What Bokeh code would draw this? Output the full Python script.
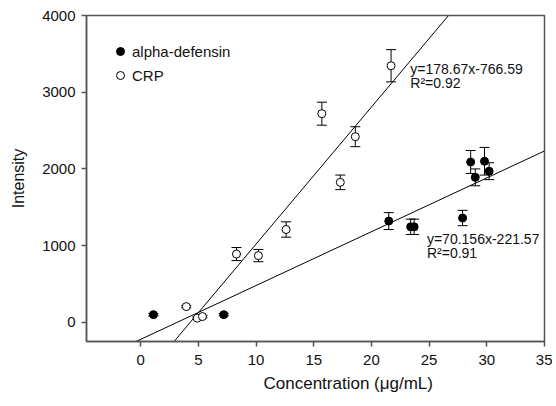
from bokeh.plotting import figure
from bokeh.models import (Range1d, FixedTicker, Whisker, TeeHead, ColumnDataSource,
                          Label, Legend, LegendItem, Title)
from bokeh.embed import file_html
from bokeh.resources import INLINE

# ---- data ----
alpha_x = [1.1, 7.2, 21.5, 23.4, 23.7, 27.9, 28.6, 29.0, 29.8, 30.2]
alpha_y = [100, 100, 1320, 1245, 1245, 1360, 2090, 1890, 2100, 1970]
alpha_err = [15, 15, 110, 100, 100, 100, 150, 110, 180, 110]

crp_x = [3.95, 4.9, 5.35, 8.3, 10.2, 12.6, 15.7, 17.3, 18.6, 21.7]
crp_y = [205, 55, 75, 890, 870, 1210, 2720, 1825, 2420, 3345]
crp_err = [15, 15, 15, 85, 80, 100, 150, 95, 130, 210]

fit_names = ["alpha-defensin", "CRP"]
fit_slope = [70.156, 178.67]
fit_intercept = [-221.57, -766.59]
fit_eq = ["y=70.156x-221.57", "y=178.67x-766.59"]
fit_r2 = ["R\u00b2=0.91", "R\u00b2=0.92"]

x_ticks = [0, 5, 10, 15, 20, 25, 30, 35]
y_ticks = [0, 1000, 2000, 3000, 4000]

XMIN, XMAX = -4.7, 35
YMIN, YMAX = -250, 4000
FONT = "Liberation Sans"
AXC = "#555555"

p = figure(width=552, height=398, x_range=Range1d(XMIN, XMAX), y_range=Range1d(YMIN, YMAX),
           output_backend="svg", toolbar_location=None,
           min_border_left=86, min_border_right=8, min_border_top=15, min_border_bottom=57)
p.xgrid.visible = False
p.ygrid.visible = False
p.outline_line_color = AXC
p.outline_line_width = 1.5
p.background_fill_color = "white"
p.border_fill_color = "white"

for ax in (p.xaxis[0], p.yaxis[0]):
    ax.axis_line_color = AXC
    ax.axis_line_width = 1.5
    ax.major_tick_line_color = AXC
    ax.major_tick_line_width = 1.5
    ax.major_tick_out = 5
    ax.major_tick_in = 0
    ax.minor_tick_line_color = None
    ax.major_label_text_font = FONT
    ax.major_label_text_font_size = "15px"
    ax.major_label_text_color = "#111111"
    ax.axis_label_text_font = FONT
    ax.axis_label_text_font_style = "normal"
    ax.axis_label_text_color = "#111111"

p.xaxis[0].ticker = FixedTicker(ticks=x_ticks)
p.yaxis[0].ticker = FixedTicker(ticks=y_ticks)
p.xaxis[0].major_label_standoff = 8
p.yaxis[0].major_label_standoff = 6
p.yaxis[0].axis_label = "Intensity"
p.yaxis[0].axis_label_text_font_size = "16px"
p.yaxis[0].axis_label_standoff = 12

# x axis title, centred under the tick range as in the reference
p.add_layout(Title(text="Concentration (\u03bcg/mL)", align="left", offset=177,
                   text_font=FONT, text_font_size="17px", text_font_style="normal",
                   text_color="#111111", standoff=9), "below")

# fit lines
for m, b in zip(fit_slope, fit_intercept):
    x0 = max(XMIN, (YMIN - b) / m)
    x1 = min(XMAX, (YMAX - b) / m)
    p.line([x0, x1], [m * x0 + b, m * x1 + b], line_color="black", line_width=1)

renderers = []
for xs, ys, es, fill in ((alpha_x, alpha_y, alpha_err, "black"), (crp_x, crp_y, crp_err, "white")):
    src = ColumnDataSource(dict(x=xs, y=ys,
                                upper=[y + e for y, e in zip(ys, es)],
                                lower=[y - e for y, e in zip(ys, es)]))
    w = Whisker(source=src, base="x", upper="upper", lower="lower", dimension="height",
                line_color="black", line_width=1, level="underlay",
                upper_head=TeeHead(size=10, line_color="black", line_width=1),
                lower_head=TeeHead(size=10, line_color="black", line_width=1))
    p.add_layout(w)
    r = p.scatter("x", "y", source=src, size=8, marker="circle",
                  fill_color=fill, line_color="black", line_width=1)
    renderers.append(r)

legend = Legend(items=[LegendItem(label=n, renderers=[r]) for n, r in zip(fit_names, renderers)],
                location=(24, 256), border_line_color=None, background_fill_alpha=0,
                padding=0, margin=0, spacing=4, label_height=20, glyph_height=20,
                glyph_width=20, label_standoff=2,
                label_text_font=FONT, label_text_font_size="15px", label_text_color="#111111")
p.add_layout(legend)

# equation annotations
eq_pos = [(24.81, 1196, 1013), (23.37, 3406, 3230)]
for (lx, ly1, ly2), eq, r2 in zip(eq_pos, fit_eq, fit_r2):
    for t, ly in ((eq, ly1), (r2, ly2)):
        p.add_layout(Label(x=lx, y=ly, text=t, text_font=FONT, text_font_size="14px",
                           text_color="#111111", text_baseline="top", text_align="left"))

open("out.html", "w").write(file_html(p, INLINE))
